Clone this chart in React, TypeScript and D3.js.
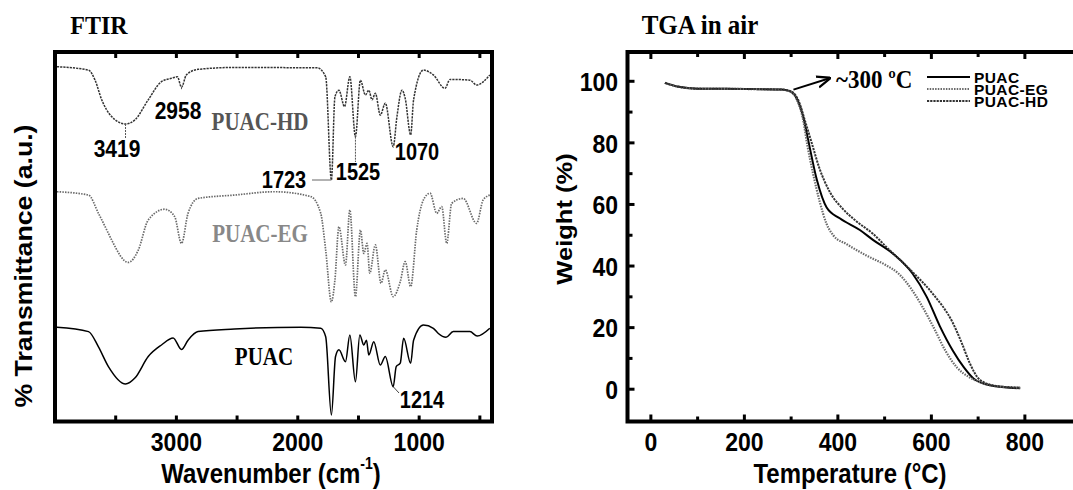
import React from 'react';
import * as d3 from 'd3';

const W = 1073;
const H = 490;
const SANS = '"Liberation Sans", Arial, sans-serif';
const SERIF = '"Liberation Serif", "Times New Roman", serif';

// FTIR spectra (wavenumber cm-1, transmittance a.u. incl. stacking offset)
const puacWn = [3984, 3724, 3642, 3560, 3419, 3342, 3232, 3123, 3027, 2958, 2904, 2822, 2522, 1975, 1811, 1770, 1723, 1689, 1661, 1607, 1571, 1525, 1489, 1456, 1434, 1415, 1374, 1320, 1279, 1214, 1189, 1156, 1128, 1070, 1046, 965, 883, 842, 779, 719, 582, 522, 418];
const puacT = [25.5, 24.3, 20.2, 14.9, 10.2, 11.8, 17.6, 20.7, 22.6, 19.5, 22.0, 24.3, 25.0, 25.5, 25.2, 22.9, 1.9, 17.6, 19.4, 16.2, 23.4, 10.8, 23.4, 20.7, 22.0, 18.0, 21.6, 15.3, 17.6, 9.5, 14.9, 15.8, 22.5, 15.8, 22.0, 26.1, 25.2, 23.8, 22.8, 24.3, 24.3, 23.1, 25.2];

const egWn = [3984, 3724, 3642, 3560, 3533, 3396, 3314, 3232, 3096, 3014, 2958, 2904, 2822, 2522, 2194, 1893, 1811, 1770, 1723, 1694, 1661, 1607, 1571, 1525, 1484, 1456, 1429, 1407, 1361, 1314, 1279, 1214, 1156, 1115, 1070, 1020, 965, 910, 855, 814, 773, 732, 637, 527, 473, 418];
const egT = [61.9, 61.0, 56.1, 50.7, 48.9, 42.9, 46.2, 54.3, 57.2, 55.2, 48.0, 56.1, 60.1, 61.0, 61.9, 60.6, 56.1, 46.2, 32.3, 38.2, 52.5, 42.2, 57.0, 33.7, 51.6, 45.3, 48.0, 40.0, 47.6, 37.3, 40.9, 33.7, 37.7, 43.1, 36.4, 51.6, 59.7, 61.5, 56.1, 57.9, 48.0, 58.8, 60.1, 53.4, 59.7, 61.0];

const hdWn = [3984, 3724, 3670, 3615, 3533, 3419, 3342, 3232, 3123, 3041, 2992, 2958, 2918, 2822, 2522, 1839, 1770, 1723, 1694, 1661, 1615, 1571, 1525, 1484, 1443, 1415, 1388, 1361, 1320, 1279, 1214, 1183, 1142, 1115, 1070, 1046, 965, 883, 787, 746, 582, 527, 418];
const hdT = [95.5, 94.6, 91.9, 86.6, 82.1, 80.1, 81.2, 86.6, 91.5, 92.4, 92.8, 90.0, 93.3, 94.8, 95.3, 95.2, 92.8, 65.1, 87.4, 89.2, 84.8, 92.8, 76.7, 91.9, 87.9, 89.2, 86.6, 88.4, 82.5, 85.7, 74.0, 82.1, 89.2, 87.0, 77.2, 86.6, 94.6, 93.3, 89.7, 92.1, 91.9, 90.6, 93.3];

const ftirTicks = [3500, 3000, 2500, 2000, 1500, 1000, 500];
const ftirLabels = [3000, 2000, 1000];

// TGA in air (temperature °C, weight %)
const tgaPuacT = [30, 60, 100, 200, 280, 300, 315, 325, 335, 355, 376, 404, 447, 475, 518, 560, 590, 618, 646, 670, 690, 725, 790];
const tgaPuacW = [99.5, 98.2, 97.6, 97.5, 97.3, 96.6, 93.5, 89, 82, 68, 59, 55.5, 51.7, 48.5, 44, 37.5, 30, 20.5, 12.5, 7, 3.5, 1.3, 0.3];
const tgaEgT = [30, 60, 100, 200, 280, 300, 315, 325, 335, 347, 361, 375, 390, 420, 460, 500, 530, 555, 580, 605, 630, 655, 680, 710, 750, 790];
const tgaEgW = [99.5, 98.2, 97.6, 97.5, 97.3, 96.5, 93, 88, 79, 70, 61, 54, 50, 47, 43.5, 40.5, 37.5, 33, 27, 20, 12.5, 7, 4, 2, 0.8, 0.5];
const tgaHdT = [30, 60, 100, 200, 280, 300, 315, 330, 344, 360, 383, 411, 440, 475, 505, 560, 603, 646, 665, 682, 704, 740, 790];
const tgaHdW = [99.5, 98.2, 97.6, 97.5, 97.3, 96.7, 94, 87, 80, 72, 64, 58.5, 54.5, 50.5, 46, 38, 31, 21.5, 15, 8.5, 3, 1, 0.5];

const tgaXTicks = [0, 100, 200, 300, 400, 500, 600, 700, 800];
const tgaXLabels = [0, 200, 400, 600, 800];
const tgaYTicks = [0, 10, 20, 30, 40, 50, 60, 70, 80, 90, 100];
const tgaYLabels = [0, 20, 40, 60, 80, 100];
const tgaSeries = ['PUAC', 'PUAC-EG', 'PUAC-HD'];

const styles: Record<string, { stroke: string; dash?: string; width: number }> = {
  'PUAC': { stroke: '#000', width: 1.8 },
  'PUAC-EG': { stroke: '#6a6a6a', dash: '1.5 1.2', width: 2 },
  'PUAC-HD': { stroke: '#333', dash: '2.2 1', width: 1.8 },
};

const zip = (xs: number[], ys: number[]) => xs.map((x, i) => [x, ys[i]] as [number, number]);

const Txt = ({ x, y, children, size = 23, family = SANS, anchor = 'middle', rotate = 0, sy = 1.16, fill = '#000', spacing = 0 }: any) => (
  <text
    transform={`translate(${x},${y}) scale(1,${sy}) rotate(${rotate})`}
    fontSize={size}
    fontFamily={family}
    fontWeight="bold"
    textAnchor={anchor}
    dominantBaseline="central"
    letterSpacing={spacing}
    fill={fill}
  >
    {children}
  </text>
);

const Ftir = () => {
  const x = d3.scaleLinear().domain([4000, 400]).range([55, 492]);
  const y = d3.scaleLinear().domain([0, 100]).range([422, 50]);
  const line = d3.line<[number, number]>()
    .x(d => x(d[0]))
    .y(d => y(d[1]))
    .curve(d3.curveMonotoneX);
  const [top, bottom] = [52, 421.5];
  const spectra: [string, number[], number[]][] = [
    ['PUAC-HD', hdWn, hdT],
    ['PUAC-EG', egWn, egT],
    ['PUAC', puacWn, puacT],
  ];
  return (
    <g>
      <Txt x={99} y={25} size={24} family={SERIF} sy={1.05}>FTIR</Txt>
      {spectra.map(([name, wn, t]) => (
        <path key={name} d={line(zip(wn, t)) || ''} fill="none"
          stroke={styles[name].stroke} strokeWidth={styles[name].width - 0.3}
          strokeDasharray={styles[name].dash} />
      ))}
      {/* leaders */}
      <line x1={x(3419)} x2={x(3419)} y1={y(80.1)} y2={138} stroke="#555" strokeWidth={1} strokeDasharray="2 1" />
      <line x1={x(2958)} x2={x(2958)} y1={y(90)} y2={90} stroke="#555" strokeWidth={1} strokeDasharray="2 1" />
      <line x1={x(1525)} x2={x(1525)} y1={y(76.7)} y2={162} stroke="#555" strokeWidth={1} strokeDasharray="2 1" />
      <line x1={312} x2={x(1723)} y1={180} y2={180} stroke="#666" strokeWidth={1} />
      <line x1={x(1214)} x2={399} y1={y(9.5)} y2={393} stroke="#444" strokeWidth={1} />

      <Txt x={117} y={148} size={21}>3419</Txt>
      <Txt x={178} y={110} size={21}>2958</Txt>
      <Txt x={284} y={180} size={20}>1723</Txt>
      <Txt x={358} y={172} size={20}>1525</Txt>
      <Txt x={417} y={152} size={20}>1070</Txt>
      <Txt x={422} y={400} size={20}>1214</Txt>
      <Txt x={260} y={122} size={21} family={SERIF} fill="#555">PUAC-HD</Txt>
      <Txt x={260} y={234} size={21} family={SERIF} fill="#888">PUAC-EG</Txt>
      <Txt x={264} y={357} size={21} family={SERIF}>PUAC</Txt>

      {/* frame */}
      <rect x={x.range()[0]} y={top} width={x.range()[1] - x.range()[0]} height={bottom - top}
        fill="none" stroke="#000" strokeWidth={4} />
      {ftirTicks.map(t => (
        <g key={t}>
          <line x1={x(t)} x2={x(t)} y1={bottom} y2={bottom - 6} stroke="#000" strokeWidth={3} />
          <line x1={x(t)} x2={x(t)} y1={top} y2={top + 6} stroke="#000" strokeWidth={3} />
        </g>
      ))}
      {ftirLabels.map(t => (
        <Txt key={t} x={x(t)} y={441}>{t}</Txt>
      ))}
      <Txt x={271} y={474} size={24} sy={1.12}>
        Wavenumber (cm<tspan fontSize={14} dy={-9}>-1</tspan><tspan dy={9}>)</tspan>
      </Txt>
      <Txt x={24} y={266} rotate={-90}>% Transmittance (a.u.)</Txt>
    </g>
  );
};

const Tga = () => {
  const x = d3.scaleLinear().domain([-50, 920]).range([627.5, 627.5 + 970 * 0.4675]);
  const y = d3.scaleLinear().domain([-10, 110]).range([420, 50.5]);
  const line = d3.line<[number, number]>()
    .x(d => x(d[0]))
    .y(d => y(d[1]))
    .curve(d3.curveMonotoneX);
  const [top, bottom] = [52, 421.5];
  const data: Record<string, [number, number][]> = {
    'PUAC': zip(tgaPuacT, tgaPuacW),
    'PUAC-EG': zip(tgaEgT, tgaEgW),
    'PUAC-HD': zip(tgaHdT, tgaHdW),
  };
  const left = x.range()[0];
  return (
    <g>
      <Txt x={700} y={25} size={25} family={SERIF} sy={1.05}>TGA in air</Txt>
      <defs>
        <marker id="arr" viewBox="0 0 10 10" refX={9} refY={5} markerWidth={7} markerHeight={7} orient="auto">
          <path d="M0,1 L10,5 L0,9" fill="none" stroke="#000" strokeWidth={1.6} />
        </marker>
      </defs>
      {tgaSeries.map(s => (
        <path key={s} d={line(data[s]) || ''} fill="none" stroke={styles[s].stroke}
          strokeWidth={styles[s].width + 0.2} strokeDasharray={styles[s].dash} />
      ))}
      <line x1={x(305)} y1={y(97.3)} x2={x(382)} y2={y(101)} stroke="#000" strokeWidth={2} markerEnd="url(#arr)" />
      <Txt x={836} y={80} size={23} family={SERIF} anchor="start" sy={1.05}>~300 ºC</Txt>

      {/* legend */}
      {tgaSeries.map((s, i) => (
        <g key={s}>
          <line x1={927} x2={970} y1={77 + i * 12} y2={77 + i * 12} stroke={styles[s].stroke}
            strokeWidth={styles[s].width} strokeDasharray={styles[s].dash} />
          <Txt x={974} y={77 + i * 12} size={15.5} anchor="start" sy={1.0} spacing={0.4}>{s}</Txt>
        </g>
      ))}

      {/* frame */}
      <rect x={left} y={top} width={W + 20 - left} height={bottom - top} fill="none" stroke="#000" strokeWidth={4} />
      {tgaXTicks.map(t => {
        const len = t % 200 === 0 ? 7 : 5;
        return (
          <g key={t}>
            <line x1={x(t)} x2={x(t)} y1={bottom} y2={bottom - len} stroke="#000" strokeWidth={3} />
            <line x1={x(t)} x2={x(t)} y1={top} y2={top + len} stroke="#000" strokeWidth={3} />
          </g>
        );
      })}
      {tgaYTicks.map(t => (
        <line key={t} x1={left} x2={left + (t % 20 === 0 ? 7 : 5)} y1={y(t)} y2={y(t)} stroke="#000" strokeWidth={3} />
      ))}
      {tgaXLabels.map(t => (
        <Txt key={t} x={x(t)} y={441}>{t}</Txt>
      ))}
      {tgaYLabels.map(t => (
        <Txt key={t} x={618} y={y(t)} anchor="end">{t}</Txt>
      ))}
      <Txt x={850} y={474} size={24} sy={1.12}>Temperature (°C)</Txt>
      <Txt x={564} y={219} rotate={-90} size={22}>Weight (%)</Txt>
    </g>
  );
};

export default function App() {
  return (
    <svg width={W} height={H} style={{ position: 'absolute', left: 0, top: 0, background: '#fff' }}>
      <rect width={W} height={H} fill="#fff" />
      <Ftir />
      <Tga />
    </svg>
  );
}
